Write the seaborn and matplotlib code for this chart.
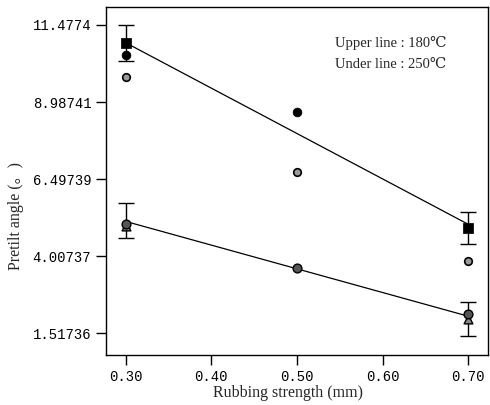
import numpy as np
import pandas as pd
import matplotlib
matplotlib.use("Agg")
import matplotlib.pyplot as plt
import seaborn as sns

# values
sq_x = [0.30, 0.70]
sq_y = [10.90, 4.91]
dark_x = [0.30, 0.50]
dark_y = [10.51, 8.67]
grey_x = [0.30, 0.50, 0.70]
grey_y = [9.80, 6.74, 3.85]
low_x = [0.30, 0.50, 0.70]
low_y = [5.04, 3.62, 2.14]
tri_x = [0.30, 0.70]
tri_y = [4.98, 1.98]

err_x = [0.30, 0.70, 0.30, 0.70]
err_lo = [10.32, 4.39, 4.59, 1.43]
err_hi = [11.46, 5.42, 5.71, 2.53]

fit_x = [0.30, 0.70]
upper_fit = [10.90, 5.04]
lower_fit = [5.13, 2.07]

yticks = [1.51736, 4.00737, 6.49739, 8.98741, 11.4774]
ytick_labels = ["1.51736", "4.00737", "6.49739", "8.98741", "11.4774"]
xticks = [0.30, 0.40, 0.50, 0.60, 0.70]
xtick_labels = ["0.30", "0.40", "0.50", "0.60", "0.70"]

sns.set_style("ticks")
plt.rcParams["font.family"] = ["Liberation Serif", "DejaVu Serif"]

fig = plt.figure(figsize=(4.9, 4.05), dpi=100)
ax = fig.add_axes([0.216, 0.123, 0.78, 0.860])

# regression lines
fits = pd.DataFrame({"x": fit_x * 2, "y": upper_fit + lower_fit,
                     "grp": ["180"] * 2 + ["250"] * 2})
sns.lineplot(data=fits, x="x", y="y", units="grp", estimator=None,
             color="black", lw=0.9, ax=ax)

# error bars
mid = [(a + b) / 2 for a, b in zip(err_lo, err_hi)]
lo = [m - a for m, a in zip(mid, err_lo)]
hi = [b - m for m, b in zip(mid, err_hi)]
ax.errorbar(err_x, mid, yerr=[lo, hi], fmt="none", ecolor="black",
            elinewidth=1.0, capsize=6, capthick=1.0, zorder=3)

sns.scatterplot(x=sq_x, y=sq_y, marker="s", s=45, color="black",
                edgecolor="black", ax=ax, zorder=4)
sns.scatterplot(x=dark_x, y=dark_y, marker="o", s=40, color="black",
                edgecolor="black", ax=ax, zorder=4)
sns.scatterplot(x=grey_x, y=grey_y, marker="o", s=30, color="#9a9a9a",
                edgecolor="black", linewidth=1.2, ax=ax, zorder=4)
sns.scatterplot(x=tri_x, y=tri_y, marker="^", s=40, color="#888888",
                edgecolor="black", linewidth=1.0, ax=ax, zorder=4)
sns.scatterplot(x=low_x, y=low_y, marker="o", s=40, color="#555555",
                edgecolor="black", linewidth=1.0, ax=ax, zorder=5)

ax.set_xlim(0.2767, 0.7233)
ax.set_ylim(0.81, 12.06)
ax.set_xticks(xticks)
ax.set_xticklabels(xtick_labels, family="Liberation Mono", fontsize=10)
ax.set_yticks(yticks)
ax.set_yticklabels(ytick_labels, family="Liberation Mono", fontsize=10)
ax.tick_params(direction="out", length=7, width=1, colors="black")
for s in ax.spines.values():
    s.set_visible(True)
    s.set_color("black")
    s.set_linewidth(1.0)

ax.set_xlabel("Rubbing strength (mm)", fontsize=11.5)
ax.xaxis.set_label_coords(0.476, -0.085)
ax.set_ylabel("Pretilt angle (\u3002)", fontsize=11.5,
              family=["Liberation Serif", "Noto Sans CJK JP"])
ax.yaxis.set_label_coords(-0.215, 0.40)

ax.text(0.545, 10.75, "Upper line : 180\u2103", fontsize=10.5,
        family=["Liberation Serif", "DejaVu Serif"])
ax.text(0.545, 10.1, "Under line : 250\u2103", fontsize=10.5,
        family=["Liberation Serif", "DejaVu Serif"])

fig.savefig("out.png", dpi=100)
